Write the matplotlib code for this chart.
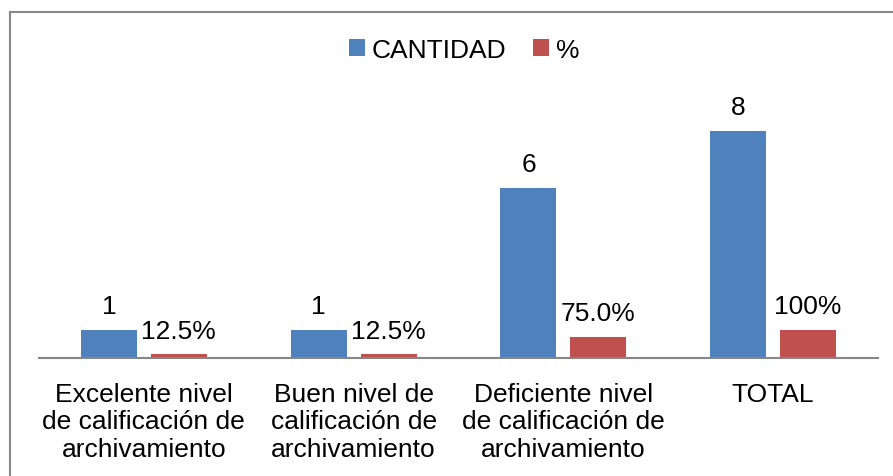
import matplotlib.pyplot as plt
import numpy as np
from matplotlib.lines import Line2D

categorias = ['Excelente nivel\nde calificación de\narchivamiento',
              'Buen nivel de\ncalificación de\narchivamiento',
              'Deficiente nivel\nde calificación de\narchivamiento',
              'TOTAL']
cantidad = [1, 1, 6, 8]
porcentaje = [0.125, 0.125, 0.75, 1.0]
etiq_cantidad = ['1', '1', '6', '8']
etiq_porcentaje = ['12.5%', '12.5%', '75.0%', '100%']

plt.rcParams['font.family'] = ['Liberation Sans', 'DejaVu Sans']
fs = 19

W, H = 893, 477
fig = plt.figure(figsize=(W / 100, H / 100), dpi=100)
# axes placed in pixel terms: x 39..878, baseline y=359
ax = fig.add_axes([39 / W, (H - 359) / H, (878 - 39) / W, (359 - 60) / H])

x = np.arange(len(categorias))
w = 0.267
b1 = ax.bar(x - 0.1665, cantidad, w, color='#4f81bd', label='CANTIDAD')
b2 = ax.bar(x + 0.1665, porcentaje, w, color='#c0504d', label='%')

ax.bar_label(b1, labels=etiq_cantidad, padding=8.5, fontsize=fs)
ax.bar_label(b2, labels=etiq_porcentaje, padding=8.5, fontsize=fs)

ax.set_xlim(-0.5, 3.5)
ax.set_ylim(0, (359 - 60) / 28.4)
ax.set_yticks([])
ax.set_xticks(x)
ax.set_xticklabels(categorias, fontsize=fs, linespacing=1.2)
ax.tick_params(axis='x', length=0, pad=17)
for s in ['top', 'left', 'right']:
    ax.spines[s].set_visible(False)
ax.spines['bottom'].set_color('#868686')
ax.spines['bottom'].set_linewidth(1.5)

ax.legend(loc='center', bbox_to_anchor=(464 / W, 1 - 51 / H),
          bbox_transform=fig.transFigure, ncol=2, frameon=False,
          fontsize=fs, handlelength=0.62, handleheight=0.62,
          handletextpad=0.25, columnspacing=1.0)

# outer chart frame (left and top edges)
fig.add_artist(Line2D([10 / W, 10 / W], [0, 1 - 13 / H], color='#888888',
                      lw=1.5, transform=fig.transFigure))
fig.add_artist(Line2D([10 / W, 1], [1 - 13 / H, 1 - 13 / H], color='#888888',
                      lw=1.5, transform=fig.transFigure))

plt.savefig('out.png', dpi=100)
